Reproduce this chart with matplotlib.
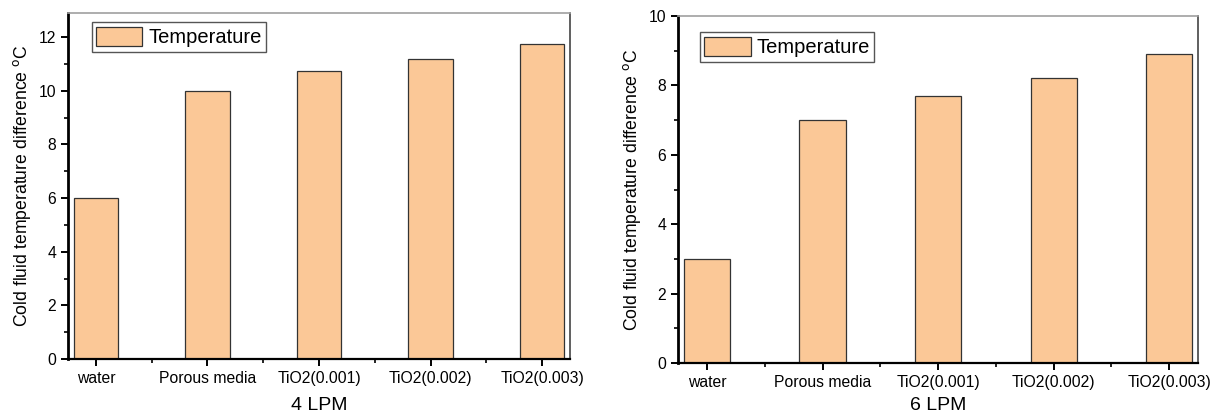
import matplotlib.pyplot as plt
from matplotlib.ticker import MultipleLocator

plt.rcParams['font.family'] = ['Liberation Sans', 'DejaVu Sans']

categories = ['water', 'Porous media', 'TiO2(0.001)', 'TiO2(0.002)', 'TiO2(0.003)']
temp_4lpm = [6.0, 10.0, 10.75, 11.2, 11.75]
temp_6lpm = [3.0, 7.0, 7.7, 8.2, 8.9]

BAR_COLOR = '#fbc897'
EDGE_COLOR = '#333333'

fig = plt.figure(figsize=(12.23, 4.17), dpi=100)
ax1 = fig.add_axes([0.0556, 0.139, 0.4105, 0.830])
ax2 = fig.add_axes([0.5545, 0.1295, 0.4251, 0.8321])


def draw_panel(ax, values, ymax, ystep, xlabel, legend_anchor, pad):
    x = list(range(len(categories)))
    ax.bar(x, values, width=0.4, color=BAR_COLOR, edgecolor=EDGE_COLOR,
           linewidth=0.9, label='Temperature')
    ax.set_xlim(-0.25, 4.25)
    ax.set_ylim(0, ymax)
    ax.set_xticks(x)
    ax.set_xticklabels(categories, fontsize=11.3)
    ax.xaxis.set_minor_locator(MultipleLocator(0.5))
    ax.yaxis.set_major_locator(MultipleLocator(ystep))
    ax.yaxis.set_minor_locator(MultipleLocator(ystep / 2))
    ax.tick_params(axis='both', which='major', direction='out', length=5,
                   width=1.4, labelsize=11.3, color='black')
    ax.tick_params(axis='both', which='minor', direction='out', length=3,
                   width=1.2, color='black')
    ax.tick_params(axis='y', which='both', right=False)
    ax.tick_params(axis='x', which='both', top=False)
    ax.spines['left'].set_linewidth(2.0)
    ax.spines['bottom'].set_linewidth(1.6)
    ax.spines['top'].set_color('#a0a0a0')
    ax.spines['top'].set_linewidth(1.2)
    ax.spines['right'].set_color('#444444')
    ax.spines['right'].set_linewidth(1.2)
    ax.set_xlabel(xlabel, fontsize=14, labelpad=pad)
    ax.set_ylabel('Cold fluid temperature difference $^{\\rm o}$C', fontsize=12.7)
    leg = ax.legend(loc='upper left', bbox_to_anchor=legend_anchor, fontsize=14.5,
                    fancybox=False, framealpha=1, edgecolor='#555555',
                    handlelength=2.3, handleheight=1.1, borderpad=0.22,
                    handletextpad=0.3, borderaxespad=0.3)
    leg.get_frame().set_linewidth(1.0)


draw_panel(ax1, temp_4lpm, 12.9, 2, '4 LPM', (0.035, 0.99), 8)
draw_panel(ax2, temp_6lpm, 10, 2, '6 LPM', (0.03, 0.97), 5)

fig.savefig('out.png', dpi=100)
